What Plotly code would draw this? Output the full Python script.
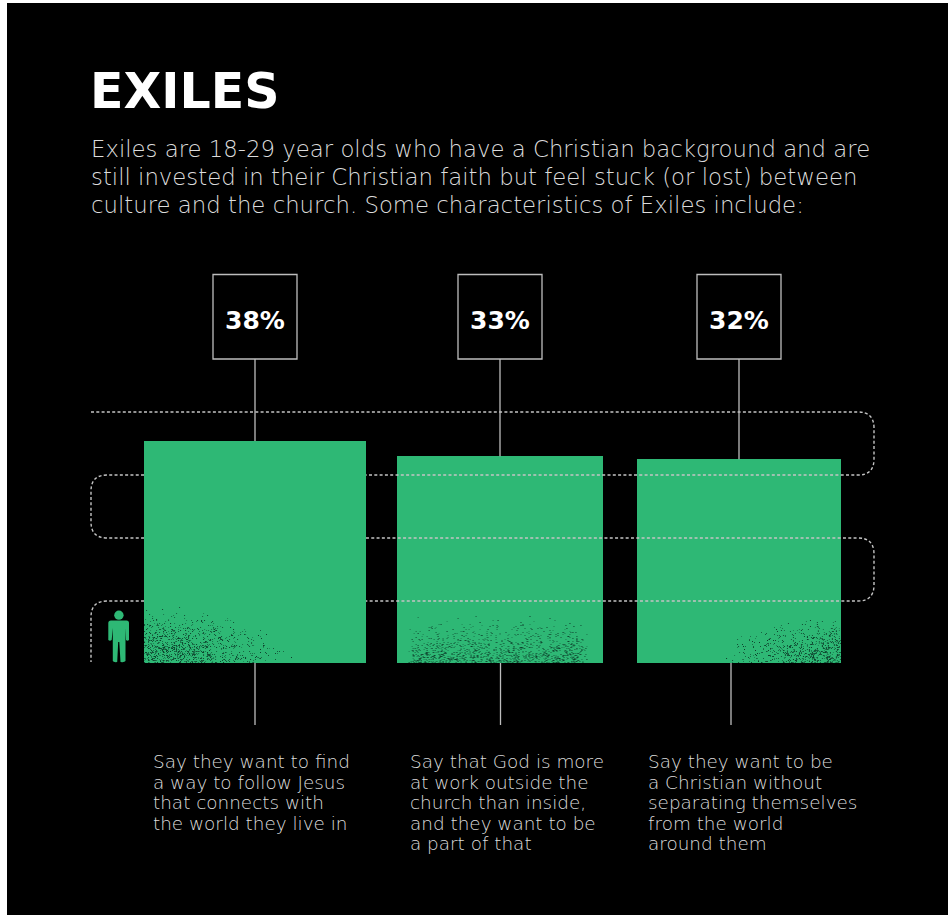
import base64
import struct
import zlib

import numpy as np
import plotly.graph_objects as go

# ---- chart content ----
title = "EXILES"
intro_lines = [
    "Exiles are 18-29 year olds who have a Christian background and are",
    "still invested in their Christian faith but feel stuck (or lost) between",
    "culture and the church. Some characteristics of Exiles include:",
]
shares = [38, 33, 32]
share_labels = ["38%", "33%", "32%"]
captions = [
    ["Say they want to find", "a way to follow Jesus", "that connects with", "the world they live in"],
    ["Say that God is more", "at work outside the", "church than inside,", "and they want to be", "a part of that"],
    ["Say they want to be", "a Christian without", "separating themselves", "from the world", "around them"],
]

# ---- page geometry (pixels) ----
W, H = 948, 915
BASE = 663          # pixel row of the squares' common baseline
UNIT = 36.0         # pixels per data unit, equal on both axes
centers_px = [255, 500, 739]
lower_leader_px = [255, 500.5, 731]
caption_left_px = [153, 410, 648]
BOX = 84
BOX_TOP, BOX_BOTTOM = 274.5, 359

GREEN = "#2eb875"
BLACK = "#000000"
LINE = "#bdbdbd"
TEXT = "#dcdcdc"
SANS = "DejaVu Sans"


def dx(px):
    return px / UNIT


def dy(py):
    return (BASE - py) / UNIT


def path(*parts):
    """Build an SVG path from (command, px, py, ...) tuples in pixel space."""
    out = []
    for p in parts:
        cmd, vals = p[0], p[1:]
        if cmd == "Z":
            out.append("Z")
            continue
        pts = [f"{dx(vals[i]):.4f},{dy(vals[i + 1]):.4f}" for i in range(0, len(vals), 2)]
        out.append(cmd + " ".join(pts))
    return " ".join(out)


# Each square's area carries the share, so its side is the root of the value.
sides = np.sqrt(np.array(shares, dtype=float))
centers = [dx(c) for c in centers_px]


def grain_png(width, height, density):
    """Speckled dark texture as an RGBA PNG data URI; density(u, v) gives coverage."""
    ys, xs = np.mgrid[0:height, 0:width]
    u = xs / (width - 1)
    v = 1 - ys / (height - 1)  # 0 on the bottom row
    n = np.sin(xs * 12.9898 + ys * 78.233 + width * 0.37) * 43758.5453
    n = n - np.floor(n)
    m = np.sin(xs * 39.346 + ys * 11.135 + height * 0.71) * 24634.6345
    m = m - np.floor(m)
    # Slow ripple so the specks gather in loose clumps.
    clump = 0.7 + 0.3 * np.sin(xs * 0.31 + ys * 0.17) * np.sin(xs * 0.13 - ys * 0.29)
    d = np.clip(density(u, v), 0, 1) * clump
    alpha = np.where(n < d * 0.5, 90 + 165 * m, 0).astype(np.uint8)
    rgba = np.zeros((height, width, 4), dtype=np.uint8)
    rgba[..., 0], rgba[..., 1], rgba[..., 2] = 12, 58, 40
    rgba[..., 3] = alpha
    raw = b"".join(b"\x00" + rgba[r].tobytes() for r in range(height))

    def chunk(tag, data):
        body = tag + data
        return struct.pack(">I", len(data)) + body + struct.pack(">I", zlib.crc32(body))

    png = b"\x89PNG\r\n\x1a\n"
    png += chunk(b"IHDR", struct.pack(">IIBBBBB", width, height, 8, 6, 0, 0, 0))
    png += chunk(b"IDAT", zlib.compress(raw, 9))
    png += chunk(b"IEND", b"")
    return "data:image/png;base64," + base64.b64encode(png).decode()


def from_left(u, v):
    return np.clip(1 - np.sqrt((u / 0.72) ** 2 + v ** 2), 0, 1) ** 1.6 * 1.8


def across(u, v):
    edge = np.clip((u - 0.04) / 0.05, 0, 1) * np.clip((0.93 - u) / 0.05, 0, 1)
    return (1 - v) ** 1.8 * edge * 1.0


def from_right(u, v):
    return np.clip(1 - np.sqrt(((1 - u) / 0.62) ** 2 + v ** 2), 0, 1) ** 1.6 * 1.7


grain_shapes = [from_left, across, from_right]
grain_heights_px = [62, 50, 50]

fig = go.Figure()
fig.add_trace(
    go.Bar(
        x=centers,
        y=sides,
        width=sides,
        marker=dict(color=GREEN, line=dict(width=0)),
        hoverinfo="skip",
        showlegend=False,
    )
)

shapes = []

# Page ground: a thin white edge shows on the left and top.
shapes.append(dict(type="rect", layer="below", xref="paper", yref="paper", x0=7 / W, x1=1,
                   y0=0, y1=1 - 3 / H, fillcolor=BLACK, line=dict(width=0)))

# Dotted "queue" that snakes behind the first square and over the others.
right_edge = 874
left_edge = 91
r = 16
first_right = centers_px[0] + sides[0] * UNIT / 2
first_left = centers_px[0] - sides[0] * UNIT / 2
rows = [412, 475, 538, 601]
dotted = [
    path(("M", left_edge, rows[0]), ("L", right_edge - r, rows[0]),
         ("Q", right_edge, rows[0], right_edge, rows[0] + r),
         ("L", right_edge, rows[1] - r),
         ("Q", right_edge, rows[1], right_edge - r, rows[1]),
         ("L", first_right, rows[1])),
    path(("M", first_left, rows[1]), ("L", left_edge + r, rows[1]),
         ("Q", left_edge, rows[1], left_edge, rows[1] + r),
         ("L", left_edge, rows[2] - r),
         ("Q", left_edge, rows[2], left_edge + r, rows[2]),
         ("L", first_left, rows[2])),
    path(("M", first_right, rows[2]), ("L", right_edge - r, rows[2]),
         ("Q", right_edge, rows[2], right_edge, rows[2] + r),
         ("L", right_edge, rows[3] - r),
         ("Q", right_edge, rows[3], right_edge - r, rows[3]),
         ("L", first_right, rows[3])),
    path(("M", first_left, rows[3]), ("L", left_edge + r, rows[3]),
         ("Q", left_edge, rows[3], left_edge, rows[3] + r),
         ("L", left_edge, 662)),
]
for d in dotted:
    shapes.append(dict(type="path", path=d, xref="x", yref="y", layer="above",
                       line=dict(color="#c4c4c4", width=1.4, dash="3px,2.3px")))

annotations = []
images = []

for i, side in enumerate(sides):
    cx = centers[i]
    # Upper leader runs from the square's top edge up to the value box.
    shapes.append(dict(type="line", xref="x", yref="y", x0=cx, x1=cx, y0=side, y1=dy(BOX_BOTTOM),
                       layer="above", line=dict(color=LINE, width=1.3)))
    # Value box.
    shapes.append(dict(type="rect", xref="x", yref="y", layer="above",
                       x0=dx(centers_px[i] - BOX / 2), x1=dx(centers_px[i] + BOX / 2),
                       y0=dy(BOX_BOTTOM), y1=dy(BOX_TOP),
                       fillcolor=BLACK, line=dict(color=LINE, width=1.3)))
    annotations.append(dict(x=cx, y=dy(320.5), xref="x", yref="y", text=f"<b>{share_labels[i]}</b>",
                            showarrow=False, xanchor="center", yanchor="middle",
                            font=dict(family=SANS, size=25, color="#ffffff")))
    # Lower leader drops from the baseline toward the caption.
    lx = dx(lower_leader_px[i])
    shapes.append(dict(type="line", xref="x", yref="y", x0=lx, x1=lx, y0=0, y1=dy(725),
                       layer="above", line=dict(color=LINE, width=1.3)))
    # Captions, one annotation per line for even leading.
    for j, line in enumerate(captions[i]):
        annotations.append(dict(x=dx(caption_left_px[i]), y=dy(761.5 + j * 20.6), xref="x", yref="y",
                                text=line, showarrow=False, xanchor="left", yanchor="middle",
                                xshift=-2,
                                font=dict(family=SANS, size=18.4, color=TEXT, weight=300)))
    # Grain at the foot of each square.
    w_px = int(round(side * UNIT))
    h_px = grain_heights_px[i]
    images.append(dict(source=grain_png(w_px, h_px, grain_shapes[i]), xref="x", yref="y",
                       x=cx - side / 2, y=h_px / UNIT, sizex=side, sizey=h_px / UNIT,
                       sizing="stretch", layer="above", xanchor="left", yanchor="top"))

# Person pictogram beside the first square.
shapes.append(dict(type="circle", xref="x", yref="y", layer="above",
                   x0=dx(114.2), x1=dx(123.6), y0=dy(619.8), y1=dy(610.6),
                   fillcolor=GREEN, line=dict(width=0)))
body = path(
    ("M", 111, 620.5), ("L", 126.5, 620.5), ("Q", 129, 620.5, 129, 623), ("L", 129, 640),
    ("Q", 127.5, 641.5, 126, 640), ("L", 125.5, 628), ("L", 125.5, 661),
    ("Q", 124.5, 662.5, 120.5, 662), ("L", 119.3, 642), ("L", 118.2, 642), ("L", 117.2, 662),
    ("Q", 113.5, 662.5, 112.8, 661), ("L", 112.8, 628), ("L", 111.7, 640),
    ("Q", 110, 641.5, 108.3, 640), ("L", 108.3, 623), ("Q", 108.3, 620.5, 111, 620.5), ("Z",),
)
shapes.append(dict(type="path", path=body, xref="x", yref="y", layer="above",
                   fillcolor=GREEN, line=dict(width=0)))

# Heading block.
annotations.append(dict(x=dx(88), y=dy(91), xref="x", yref="y", text=f"<b>{title}</b>",
                        showarrow=False, xanchor="left", yanchor="middle",
                        font=dict(family=SANS, size=49, color="#ffffff")))
for j, line in enumerate(intro_lines):
    annotations.append(dict(x=dx(89), y=dy(149 + j * 28), xref="x", yref="y", text=line,
                            showarrow=False, xanchor="left", yanchor="middle",
                            font=dict(family=SANS, size=22.8, color=TEXT, weight=300)))

fig.update_layout(
    width=W,
    height=H,
    margin=dict(l=0, r=0, t=0, b=0),
    paper_bgcolor="#ffffff",
    plot_bgcolor="rgba(0,0,0,0)",
    barmode="overlay",
    bargap=0,
    showlegend=False,
    hovermode=False,
    xaxis=dict(range=[0, W / UNIT], visible=False, fixedrange=True),
    yaxis=dict(range=[dy(H), dy(0)], visible=False, fixedrange=True),
    shapes=shapes,
    annotations=annotations,
    images=images,
)

fig.write_html("out.html", config=dict(displayModeBar=False))
